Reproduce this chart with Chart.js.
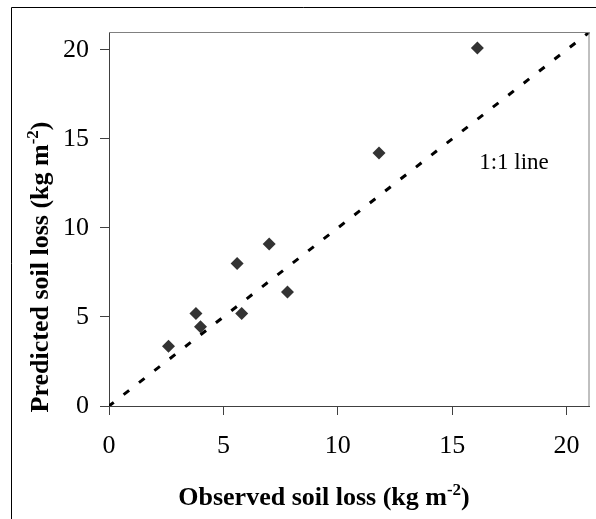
<!DOCTYPE html>
<html><head><meta charset="utf-8">
<script src="https://cdn.jsdelivr.net/npm/chart.js@4/dist/chart.umd.min.js"></script>
<style>html,body{margin:0;padding:0;background:#fff}#wrap{width:596px;height:519px;position:relative}</style>
</head><body><div id="wrap"><canvas id="c" width="596" height="519"></canvas></div>
<script>
const observed = [2.6, 3.8, 4.0, 5.6, 5.8, 7.0, 7.8, 11.8, 16.1];
const predicted = [3.35, 5.2, 4.45, 8.0, 5.2, 9.1, 6.4, 14.2, 20.1];
const oneToOneLine = [0, 21];
const tickValues = [0, 5, 10, 15, 20];
const xTitle = ['Observed soil loss (kg m', '-2', ')'];
const yTitle = ['Predicted soil loss (kg m', '-2', ')'];
const lineLabel = '1:1 line';

function drawSup(ctx, parts, cx, base){
  const main = 'bold 26px "Liberation Serif"', sup = 'bold 17px "Liberation Serif"';
  ctx.font = main; const w0 = ctx.measureText(parts[0]).width, w2 = ctx.measureText(parts[2]).width;
  ctx.font = sup; const w1 = ctx.measureText(parts[1]).width;
  const x0 = cx - (w0 + w1 + w2) / 2;
  ctx.textAlign = 'left'; ctx.textBaseline = 'alphabetic';
  ctx.font = main; ctx.fillText(parts[0], x0, base);
  ctx.font = sup; ctx.fillText(parts[1], x0 + w0, base - 10);
  ctx.font = main; ctx.fillText(parts[2], x0 + w0 + w1, base);
}

const decor = {
  id: 'decor',
  afterDraw(chart){
    const {ctx, chartArea: a, scales: {x, y}} = chart;
    ctx.save();
    ctx.strokeStyle = '#000'; ctx.lineWidth = 1;
    ctx.beginPath(); ctx.moveTo(11.5, 519); ctx.lineTo(11.5, 7.5); ctx.lineTo(596, 7.5); ctx.stroke();
    ctx.strokeStyle = '#808080';
    ctx.beginPath(); ctx.moveTo(a.left, a.top + 0.5); ctx.lineTo(a.right - 0.5, a.top + 0.5); ctx.lineTo(a.right - 0.5, a.bottom); ctx.stroke();
    ctx.fillStyle = '#000';
    ctx.font = '23px "Liberation Serif"'; ctx.textAlign = 'center'; ctx.textBaseline = 'middle';
    ctx.fillText(lineLabel, x.getPixelForValue(17.7), y.getPixelForValue(13.65));
    drawSup(ctx, xTitle, 324, 505);
    ctx.translate(48, 267); ctx.rotate(-Math.PI / 2);
    drawSup(ctx, yTitle, 0, 0);
    ctx.restore();
  }
};

const axisCommon = (pad) => ({
  type: 'linear', min: 0, max: 21,
  afterBuildTicks: s => { s.ticks = tickValues.map(v => ({value: v})); },
  ticks: {font: {family: 'Liberation Serif', size: 26}, color: '#000', padding: pad},
  grid: {display: true, drawOnChartArea: false, drawTicks: true, tickLength: 9, color: '#404040', lineWidth: 1},
  border: {display: true, color: '#404040', width: 1}
});

const xs = axisCommon(16); xs.afterFit = s => { s.height = 113; };
const ys = axisCommon(11); ys.afterFit = s => { s.width = 109; };

new Chart(document.getElementById('c'), {
  type: 'scatter',
  data: {
    datasets: [
      {
        label: 'Soil loss',
        data: observed.map((v, i) => ({x: v, y: predicted[i]})),
        pointStyle: 'rectRot', pointRadius: 6.5, pointHoverRadius: 6.5,
        backgroundColor: '#333333', borderColor: '#333333', borderWidth: 0, order: 0
      },
      {
        type: 'line', label: '1:1 line',
        data: oneToOneLine.map(v => ({x: v, y: v})),
        borderColor: '#000', borderWidth: 3, borderDash: [7, 12.5], borderDashOffset: 1,
        pointRadius: 0, fill: false, order: 1
      }
    ]
  },
  options: {
    responsive: false, animation: false, devicePixelRatio: 1,
    layout: {padding: {top: 32, right: 4, left: 0, bottom: 0}},
    plugins: {legend: {display: false}, tooltip: {enabled: false}},
    scales: {x: xs, y: ys}
  },
  plugins: [decor]
});
</script></body></html>
